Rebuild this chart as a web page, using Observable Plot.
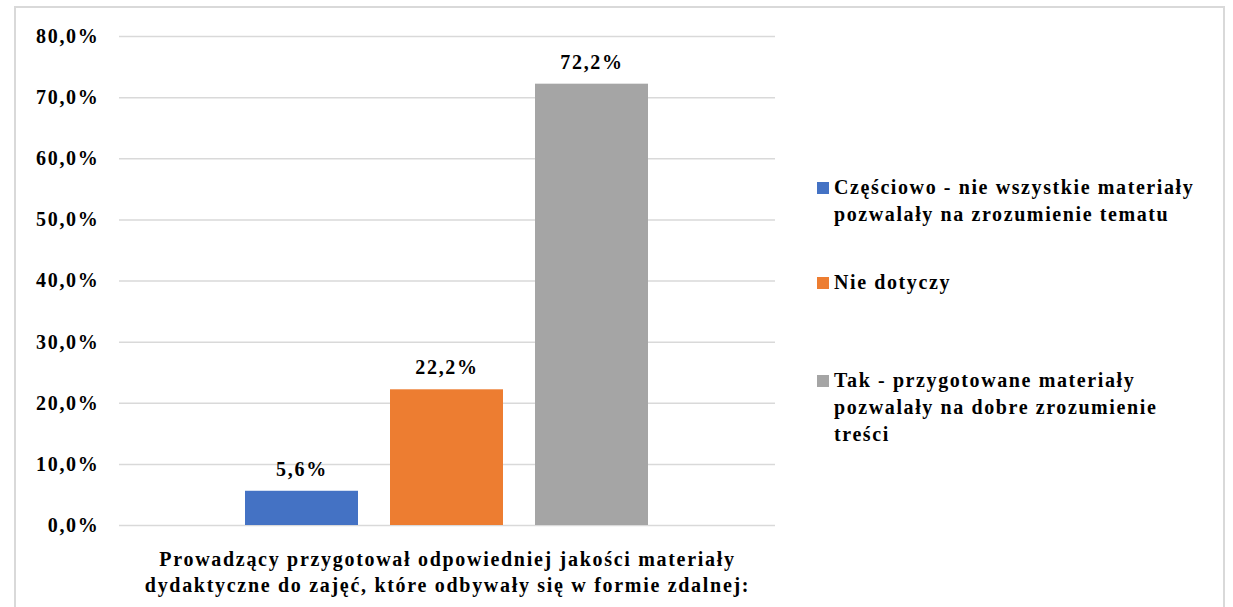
<!DOCTYPE html>
<html><head><meta charset="utf-8">
<script src="https://cdn.jsdelivr.net/npm/d3@7"></script>
<script src="https://cdn.jsdelivr.net/npm/@observablehq/plot@0.6"></script>
<style>
html,body{margin:0;padding:0;background:#fff;width:1233px;height:607px;overflow:hidden;}
#frame{position:absolute;left:14px;top:6px;width:1211px;height:620px;border:2px solid #d9d9d9;box-sizing:border-box;}
#chart{position:absolute;left:0;top:0;}
#legend{position:absolute;left:817px;top:174px;font-family:"Liberation Serif","Times New Roman",serif;font-weight:bold;font-size:20px;letter-spacing:1.6px;line-height:27px;color:#000;white-space:nowrap;}
.item{position:relative;padding-left:17px;width:390px;}
.sw{position:absolute;left:0;top:8px;width:12px;height:12px;}
</style></head>
<body>
<div id="frame"></div>
<div id="chart"></div>
<div id="legend"></div>
<script>
const categories = [
  "Częściowo - nie wszystkie materiały pozwalały na zrozumienie tematu",
  "Nie dotyczy",
  "Tak - przygotowane materiały pozwalały na dobre zrozumienie treści"
];
const legendLines = [
  ["Częściowo - nie wszystkie materiały", "pozwalały na zrozumienie tematu"],
  ["Nie dotyczy"],
  ["Tak - przygotowane materiały", "pozwalały na dobre zrozumienie", "treści"]
];
const values = [0.056, 0.222, 0.722];
const colors = ["#4472c4", "#ed7d31", "#a5a5a5"];
const yTicks = [0, 0.1, 0.2, 0.3, 0.4, 0.5, 0.6, 0.7, 0.8];
const axisTitle = "Prowadzący przygotował odpowiedniej jakości materiały\ndydaktyczne do zajęć, które odbywały się w formie zdalnej:";

const data = categories.map((c, i) => ({cat: c, value: values[i]}));
const fmt = d => (d * 100).toFixed(1).replace(".", ",") + "%";
const font = '"Liberation Serif","Times New Roman",serif';

const chart = Plot.plot({
  width: 1233,
  height: 607,
  marginLeft: 119,
  marginRight: 458,
  marginTop: 36,
  marginBottom: 82,
  style: {fontFamily: font, fontWeight: "bold", fontSize: "20px", letterSpacing: "1.7px", color: "#000", background: "transparent"},
  x: {domain: categories, paddingInner: 0.22, paddingOuter: 0.86, axis: null},
  y: {domain: [0, 0.8], axis: null},
  color: {domain: categories, range: colors},
  marks: [
    Plot.ruleY(yTicks, {stroke: "#d9d9d9", strokeWidth: 1.5}),
    Plot.axisY({ticks: yTicks, tickFormat: fmt, tickSize: 0, tickPadding: 20, label: null, fontSize: 20, fontWeight: "bold", fill: "#000"}),
    Plot.barY(data, {x: "cat", y: "value", fill: "cat"}),
    Plot.text(data, {x: "cat", y: "value", text: d => fmt(d.value), dy: -22, fontSize: 20, fontWeight: "bold", fill: "#000"}),
    Plot.text([axisTitle], {text: d => d, frameAnchor: "bottom", dy: 45, lineAnchor: "middle", lineHeight: 1.3, fontSize: 20, fontWeight: "bold", fill: "#000"})
  ]
});
document.getElementById("chart").appendChild(chart);

const legend = document.getElementById("legend");
const gaps = [0, 41, 71];
legendLines.forEach((lines, i) => {
  const it = document.createElement("div");
  it.className = "item";
  it.style.marginTop = gaps[i] + "px";
  const sw = document.createElement("span");
  sw.className = "sw";
  sw.style.background = colors[i];
  it.appendChild(sw);
  lines.forEach(l => { const d = document.createElement("div"); d.textContent = l; it.appendChild(d); });
  legend.appendChild(it);
});
</script>
</body></html>
